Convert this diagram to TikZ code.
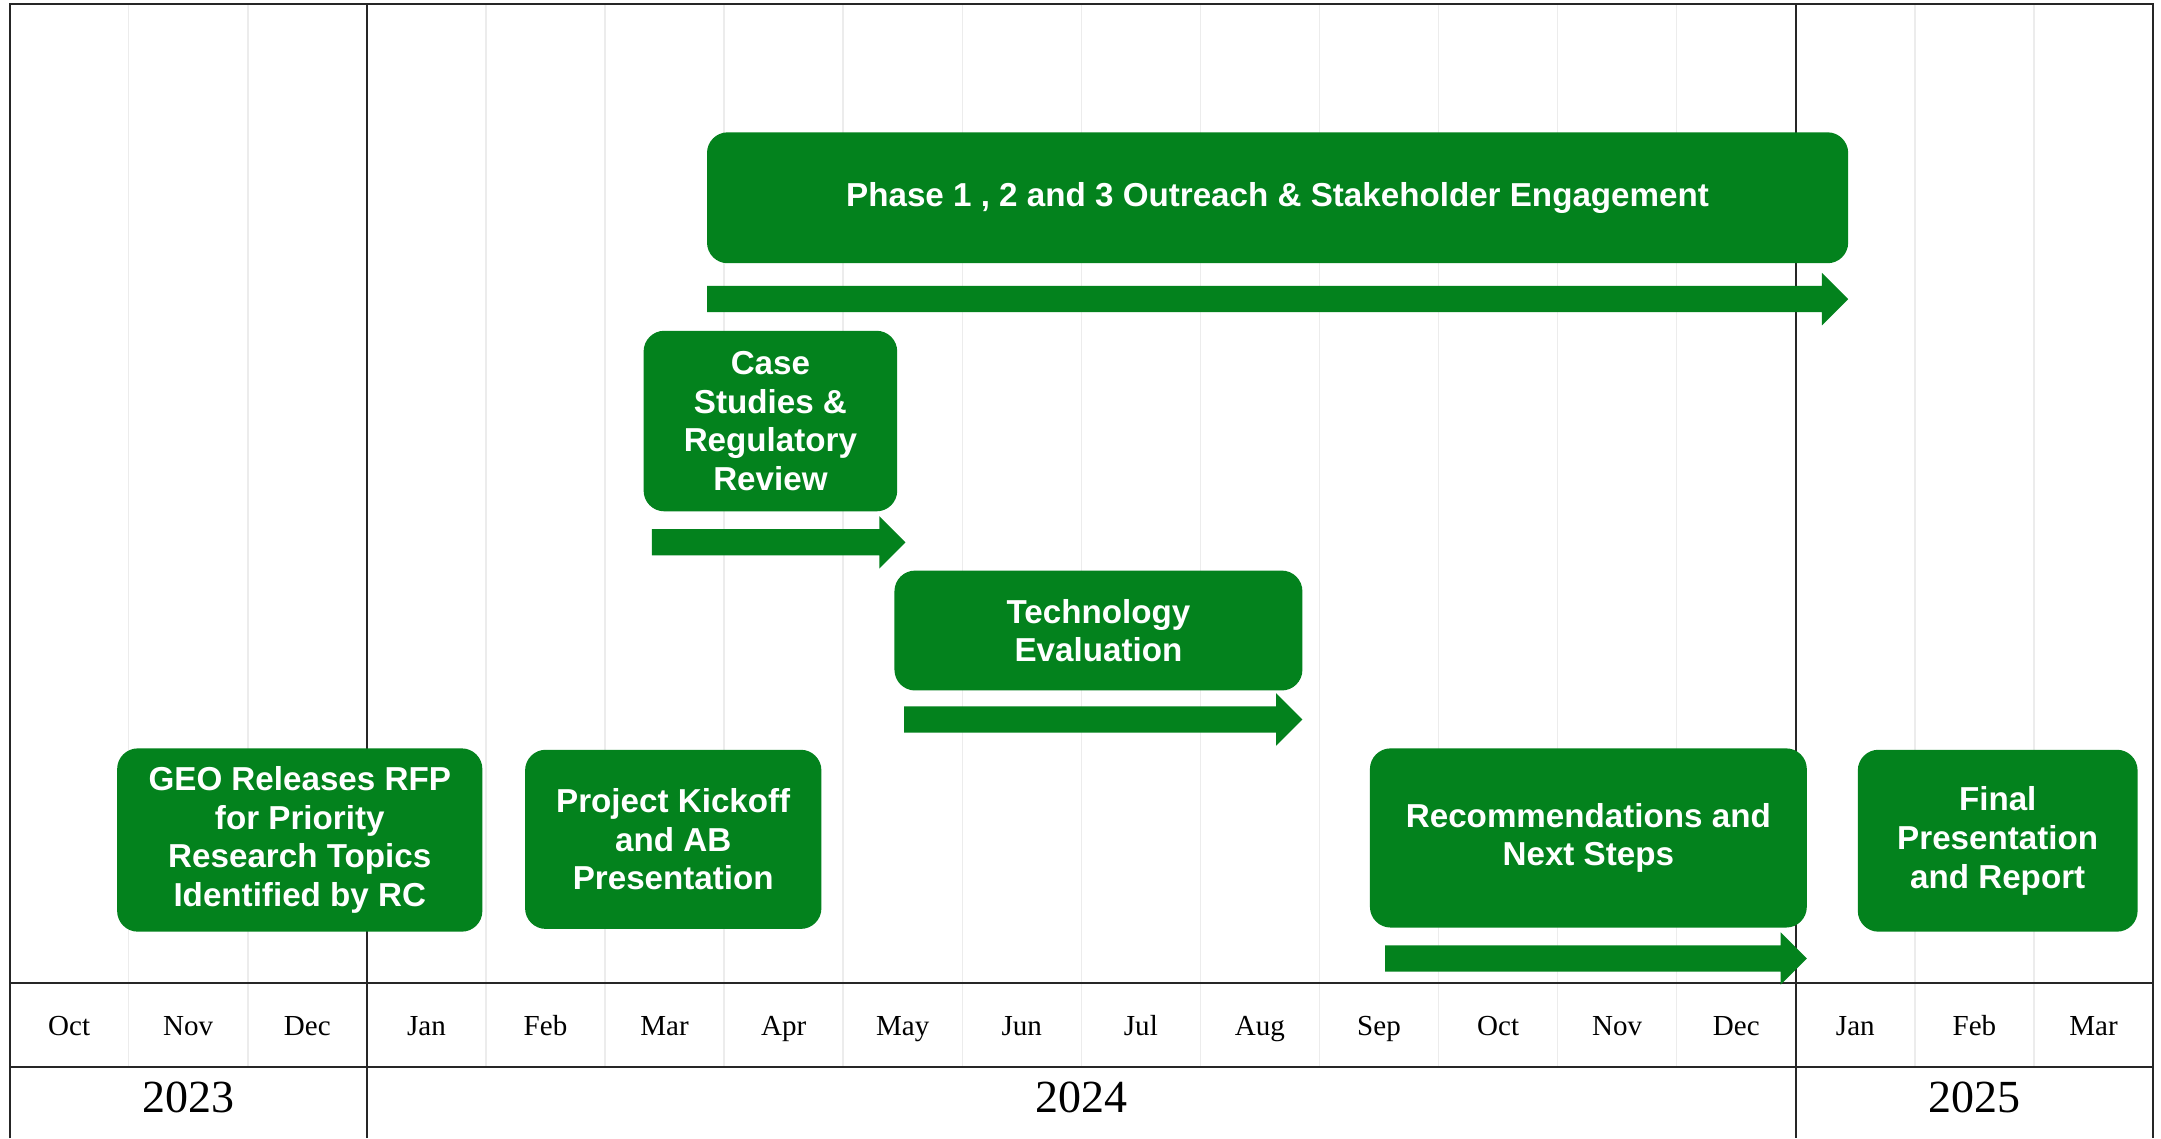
\documentclass[tikz,border=0pt]{standalone}
\usepackage{fontspec}
\usepackage{tikz}
\usetikzlibrary{positioning}
\newfontfamily\boxfont{Liberation Sans}
\newfontfamily\axisfont{Liberation Serif}
\definecolor{taskgreen}{RGB}{3,130,29}
\definecolor{gridgrey}{RGB}{236,236,236}
\definecolor{framegrey}{RGB}{38,38,38}
\tikzset{taskbox/.style={fill=taskgreen,rounded corners=0.3cm,inner sep=0,text=white,align=center,
        font=\boxfont\bfseries\fontsize{13.7}{16}\selectfont},
    framelines/.style={framegrey,line width=0.8pt},
    gridlines/.style={gridgrey,line width=0.6pt},
    monthlabel/.style={anchor=base,font=\axisfont\fontsize{12}{14}\selectfont},
    yearlabel/.style={anchor=base,font=\axisfont\fontsize{19}{22}\selectfont}
}
\newcommand{\monthgrid}
{
% args: none; 18 month columns of width 86.4 starting at x=7
    \foreach \i in {1,...,17}
        \draw[gridlines] ({7+86.4*\i},3) -- ({7+86.4*\i},774);

    \foreach \m [count=\i, evaluate=\i as \xm using 7+86.4*(\i-0.5)] in
        {Oct,Nov,Dec,Jan,Feb,Mar,Apr,May,Jun,Jul,Aug,Sep,Oct,Nov,Dec,Jan,Feb,Mar}
        \node[monthlabel] (month\i) at (\xm,751) {\m};
}
\newcommand{\taskbox}[6]
{
% args: (name, left x, top y, right x, bottom y, text)
    \pgfmathsetmacro\boxcx{(#2+#4)/2}
    \pgfmathsetmacro\boxcy{(#3+#5)/2}
    \pgfmathsetlengthmacro\boxw{(#4-#2)*0.02cm}
    \pgfmathsetlengthmacro\boxh{(#5-#3)*0.02cm}
    \node[taskbox,minimum width=\boxw,minimum height=\boxh] (#1) at (\boxcx,\boxcy) {#6};
}
\newcommand{\blockarrow}[3]
{
% args: (x of tail, x of tip, y of shaft centre)
    \fill[taskgreen] (#1,#3-9.5) -- (#2-19,#3-9.5) -- (#2-19,#3-19) -- (#2,#3)
        -- (#2-19,#3+19) -- (#2-19,#3+9.5) -- (#1,#3+9.5) -- cycle;
}

\begin{document}
\begin{tikzpicture}[x=0.02cm,y=-0.02cm]

\useasboundingbox[fill=white] (0,0) rectangle (1568,826);

\monthgrid

% frame and year dividers
\draw[framelines] (7,826) -- (7,3) -- (1562,3) -- (1562,826);
\foreach \x in {266.2,1303}
    \draw[framelines] (\x,3) -- (\x,826);
\foreach \y in {713,774}
    \draw[framelines] (7,\y) -- (1562,\y);

\node[yearlabel] (year2023) at (136.6,807) {2023};
\node[yearlabel] (year2024) at (784.6,807) {2024};
\node[yearlabel] (year2025) at (1432.6,807) {2025};

% tasks
\taskbox{outreach}{513}{96}{1341}{191}{Phase 1 , 2 and 3 Outreach \& Stakeholder Engagement}
\blockarrow{513}{1341}{217}

\taskbox{casestudies}{467}{240}{651}{371}{Case\\Studies \&\\Regulatory\\Review}
\blockarrow{473}{657}{393.5}

\taskbox{techeval}{649}{414}{945}{501}{Technology\\Evaluation}
\blockarrow{656}{945}{522}

\taskbox{rfp}{85}{543}{350}{676}{GEO Releases RFP\\for Priority\\Research Topics\\Identified by RC}

\taskbox{kickoff}{381}{544}{596}{674}{Project Kickoff\\and AB\\Presentation}

\taskbox{recommend}{994}{543}{1311}{673}{Recommendations and\\Next Steps}
\blockarrow{1005}{1311}{695.5}

\taskbox{final}{1348}{544}{1551}{676}{Final\\Presentation\\and Report}

\end{tikzpicture}
\end{document}
